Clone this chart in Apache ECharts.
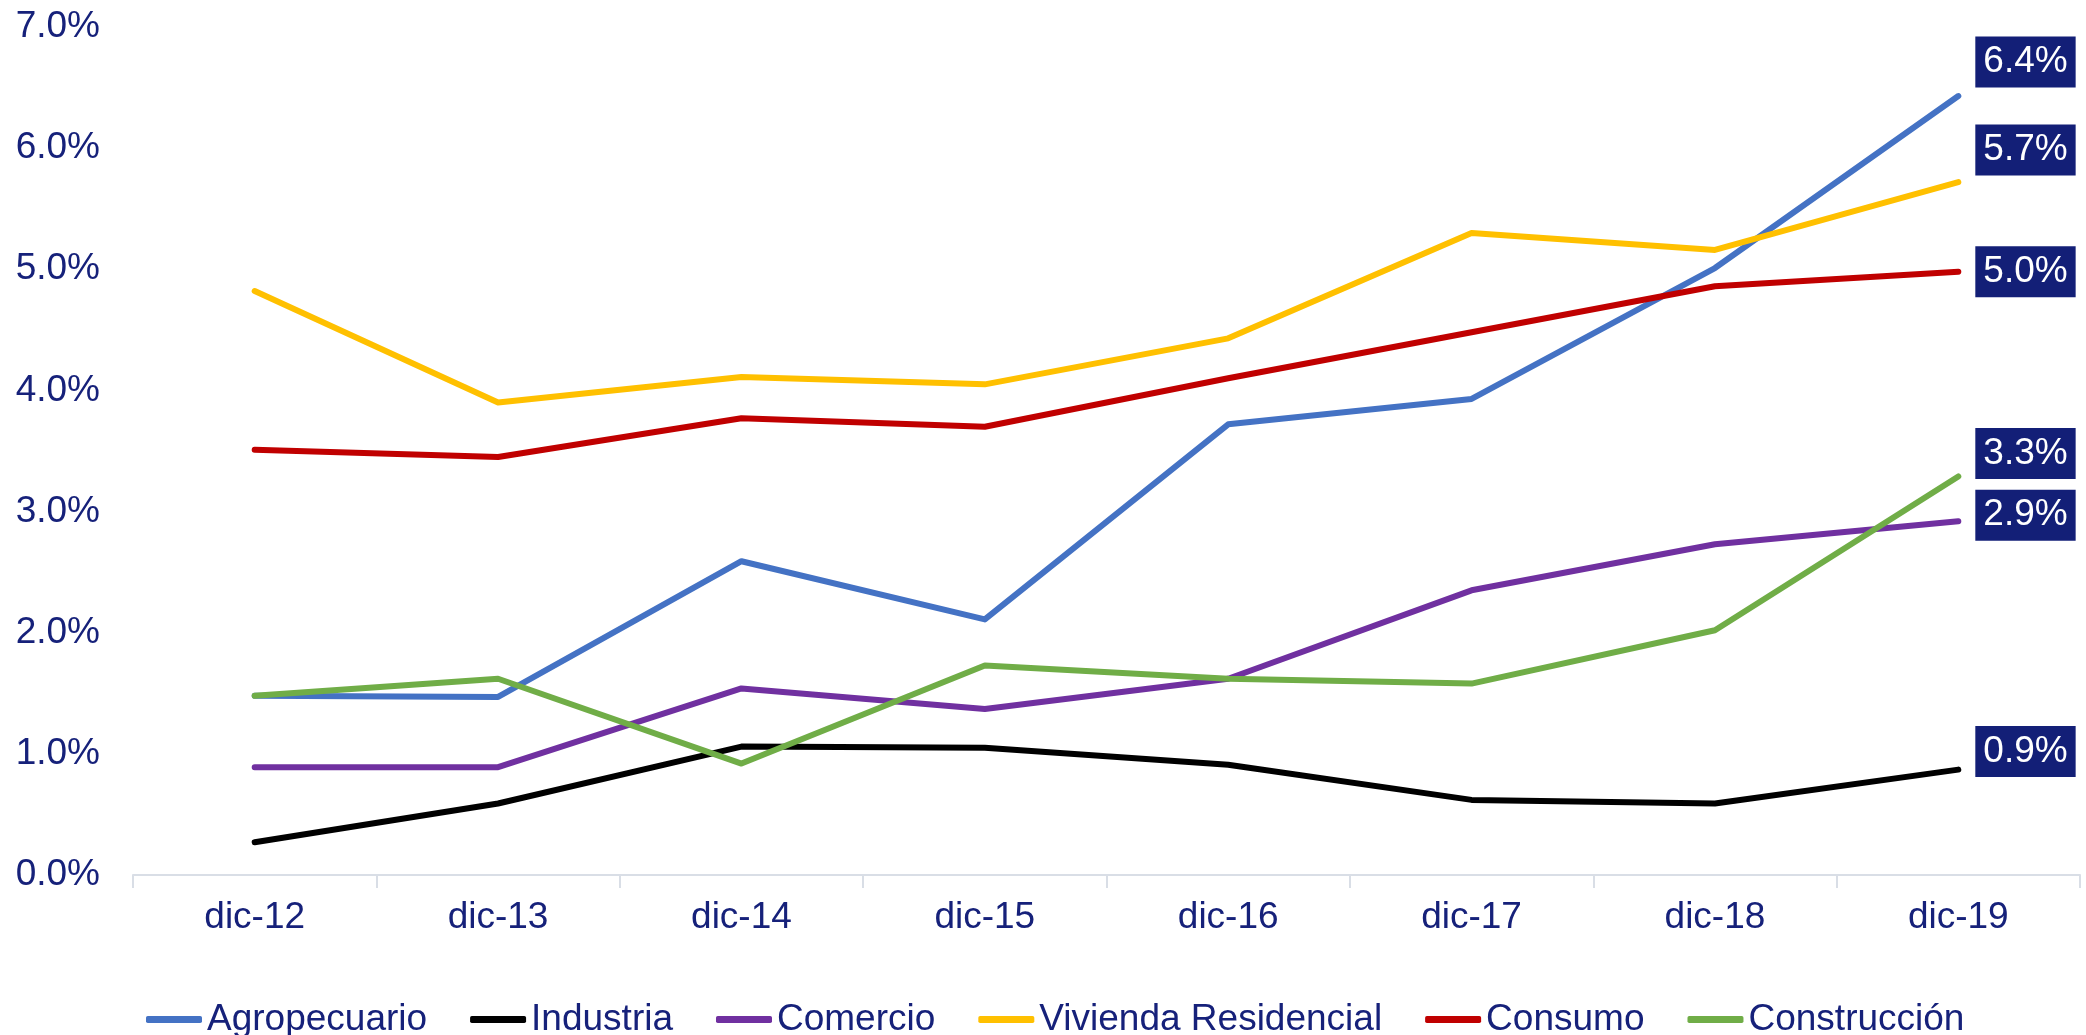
<!DOCTYPE html>
<html>
<head>
<meta charset="utf-8">
<script src="https://cdn.jsdelivr.net/npm/echarts@6/dist/echarts.min.js"></script>
<style>
  html, body { margin: 0; padding: 0; background: #fff; }
  #chart { width: 2086px; height: 1035px; }
</style>
</head>
<body>
<div id="chart"></div>
<script>
const categories = ['dic-12', 'dic-13', 'dic-14', 'dic-15', 'dic-16', 'dic-17', 'dic-18', 'dic-19'];
const seriesNames = ['Agropecuario', 'Industria', 'Comercio', 'Vivienda Residencial', 'Consumo', 'Construcción'];
const agropecuario = [1.48, 1.47, 2.59, 2.11, 3.72, 3.93, 5.01, 6.43];
const industria = [0.27, 0.59, 1.06, 1.05, 0.91, 0.62, 0.59, 0.87];
const comercio = [0.89, 0.89, 1.54, 1.37, 1.62, 2.35, 2.73, 2.92];
const vivienda = [4.82, 3.90, 4.11, 4.05, 4.43, 5.30, 5.16, 5.72];
const consumo = [3.51, 3.45, 3.77, 3.70, 4.10, 4.48, 4.86, 4.98];
const construccion = [1.48, 1.62, 0.92, 1.73, 1.62, 1.58, 2.02, 3.29];

const seriesValues = [agropecuario, industria, comercio, vivienda, consumo, construccion];
const colors = ['#4472C4', '#000000', '#7030A0', '#FFC000', '#C00000', '#70AD47'];
// vertical nudge of each end label, like the reference
const labelShift = [-34, -18, -6, -32, 0, -23];

const navy = '#16217A';
const font = 'Liberation Sans, Arial, sans-serif';

let myChart = echarts.init(document.getElementById('chart'));

myChart.setOption({
  animation: false,
  textStyle: { fontFamily: font },
  grid: {
    left: 133,
    right: 6,
    top: 27,
    bottom: 160
  },
  legend: {
    data: seriesNames,
    top: 996,
    left: 141,
    icon: 'roundRect',
    itemWidth: 56,
    itemHeight: 7,
    itemGap: 43,
    textStyle: { color: navy, fontSize: 37, fontFamily: font }
  },
  xAxis: {
    type: 'category',
    data: categories,
    boundaryGap: true,
    axisLine: { lineStyle: { color: '#D9DEE6', width: 2 } },
    axisTick: { show: true, length: 13, lineStyle: { color: '#D9DEE6', width: 2 } },
    axisLabel: { color: navy, fontSize: 37, margin: 24, fontFamily: font },
    splitLine: { show: false }
  },
  yAxis: {
    type: 'value',
    min: 0,
    max: 7,
    interval: 1,
    axisLine: { show: false },
    axisTick: { show: false },
    splitLine: { show: false },
    axisLabel: {
      color: navy,
      fontSize: 37,
      margin: 33,
      fontFamily: font,
      formatter: v => v.toFixed(1) + '%'
    }
  },
  series: seriesNames.map((name, i) => ({
    name: name,
    type: 'line',
    data: seriesValues[i],
    showSymbol: false,
    symbol: 'none',
    color: colors[i],
    lineStyle: { color: colors[i], width: 6, cap: 'round', join: 'round' },
    endLabel: {
      show: true,
      distance: 17,
      offset: [0, labelShift[i]],
      formatter: p => p.value.toFixed(1) + '%',
      color: '#fff',
      fontSize: 37,
      fontFamily: font,
      backgroundColor: '#131F77',
      padding: [7, 8, 6, 8],
      lineHeight: 38
    }
  }))
});
</script>
</body>
</html>
